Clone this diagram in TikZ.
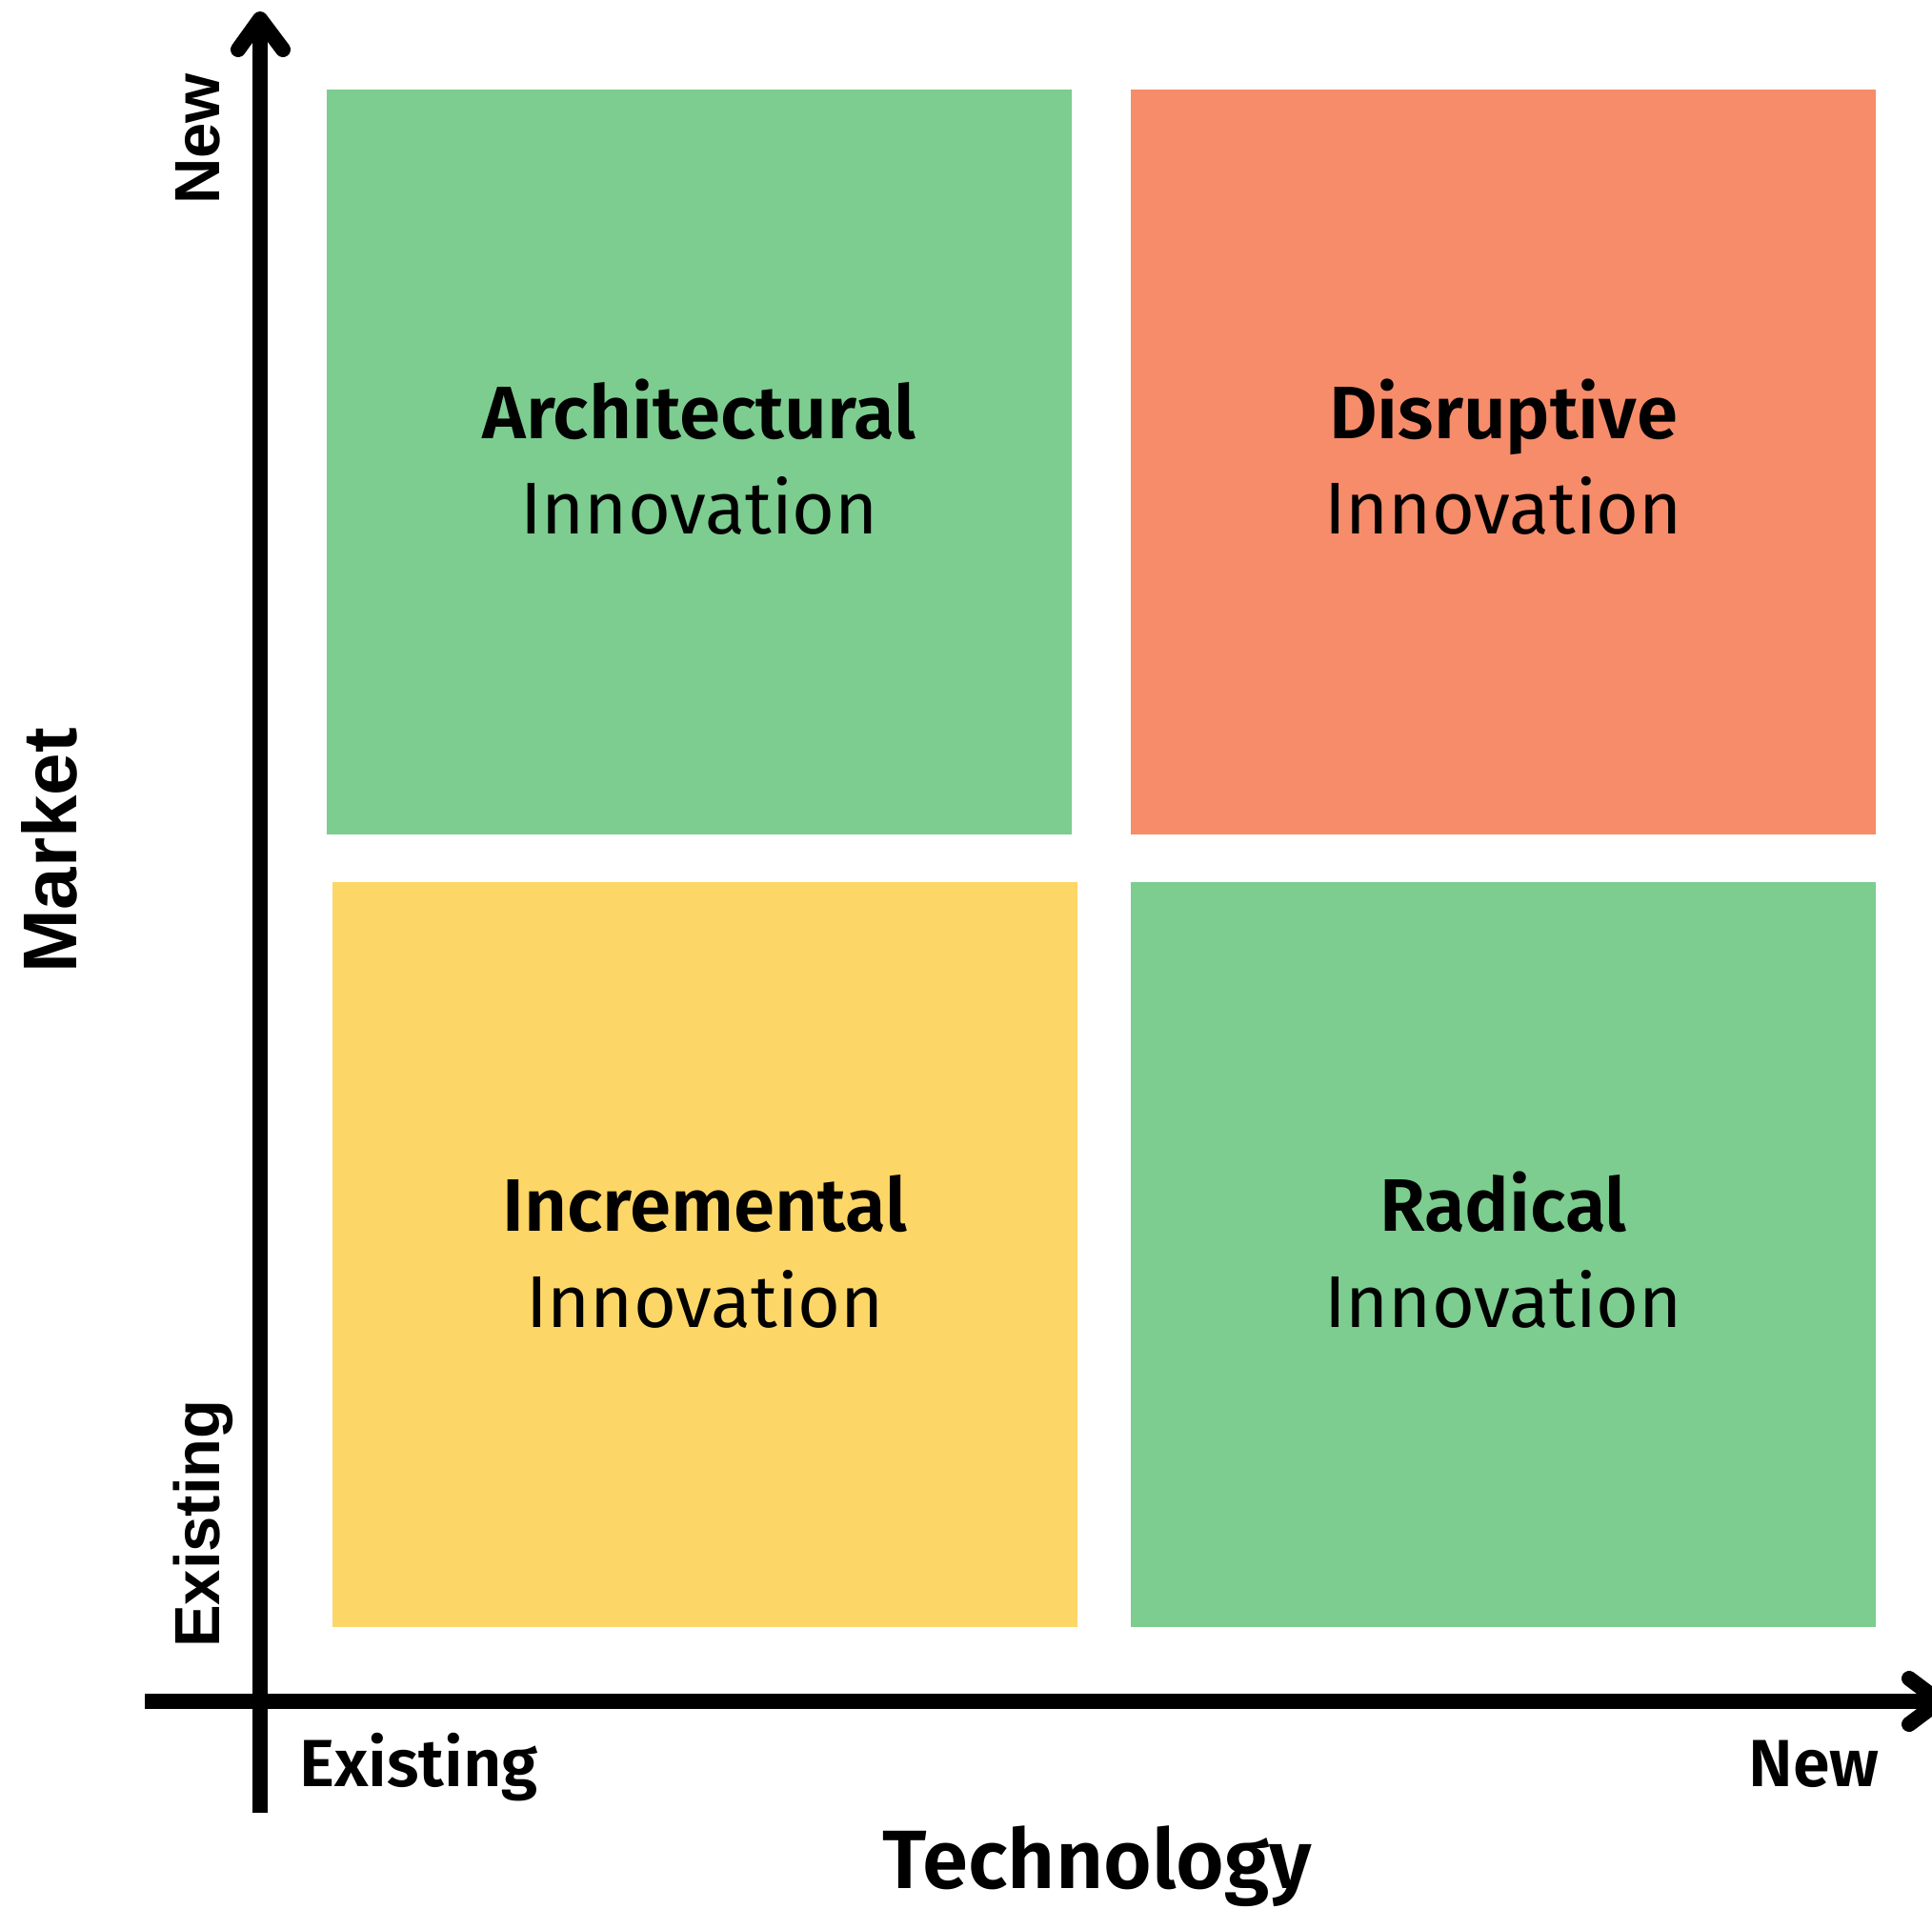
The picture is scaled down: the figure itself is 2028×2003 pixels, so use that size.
\documentclass[tikz,border=0pt]{standalone}
\usepackage{fontspec}
\newfontfamily\plexb{Fira Sans}[UprightFont=* SemiBold]
\newfontfamily\plexr{Fira Sans}
\newfontfamily\arialf{Liberation Sans}
\definecolor{qgreen}{HTML}{7CCD8F}
\definecolor{qorange}{HTML}{F68C6A}
\definecolor{qyellow}{HTML}{FDD668}
\begin{document}
\begin{tikzpicture}[x=1pt,y=-1pt,
  quad/.style={draw=none,inner sep=0pt,minimum width=782pt,minimum height=782pt},
  title/.style={inner sep=0pt,anchor=base,font=\plexb\fontsize{78}{80}\selectfont},
  sub/.style={inner sep=0pt,anchor=base,font=\plexr\fontsize{77}{80}\selectfont},
  axl/.style={inner sep=0pt,font=\plexb\fontsize{70}{72}\selectfont},
  vaxl/.style={inner sep=0pt,rotate=90,font=\arialf\bfseries\fontsize{67}{70}\selectfont},
  axis/.style={line width=16pt,line cap=butt},
  chev/.style={line width=16pt,line cap=round,line join=round}]
\useasboundingbox (0,0) rectangle (2028,2003);
% quadrants
\node[quad,fill=qgreen]  (arch) at (734,485) {};
\node[quad,fill=qorange] (disr) at (1578,485) {};
\node[quad,fill=qyellow] (incr) at (740,1316.5) {};
\node[quad,fill=qgreen]  (rad)  at (1578,1316.5) {};
% labels
\node[title] (archT) at (734,460) {Architectural};
\node[sub]   (archS) at (734,560) {Innovation};
\node[title] (disrT) at (1578,460) {Disruptive};
\node[sub]   (disrS) at (1578,560) {Innovation};
\node[title] (incrT) at (740,1292) {Incremental};
\node[sub]   (incrS) at (740,1393) {Innovation};
\node[title] (radT)  at (1578,1292) {Radical};
\node[sub]   (radS)  at (1578,1393) {Innovation};
% axes
\coordinate (vbot) at (273,1903);
\coordinate (vtop) at (273,24);
\coordinate (vl) at (250,52);
\coordinate (vr) at (297,52);
\coordinate (vtip) at (273,20);
\coordinate (hleft) at (152,1786);
\coordinate (hright) at (2032,1786);
\coordinate (hu) at (2004,1762);
\coordinate (hd) at (2004,1810);
\coordinate (htip) at (2036,1786);
\draw[axis] (vbot) -- (vtop);
\draw[chev] (vl) -- (vtip) -- (vr);
\draw[axis] (hleft) -- (hright);
\draw[chev] (hu) -- (htip) -- (hd);
% axis labels
\node[axl,anchor=base west] (hex) at (314,1875) {Existing};
\node[axl,anchor=base east] (hnew) at (1973,1875) {New};
\node[inner sep=0pt,anchor=base,font=\plexb\fontsize{87}{90}\selectfont] (tech) at (1152,1982) {Technology};
\node[vaxl,anchor=base west] (vex) at (230,1730) {Existing};
\node[vaxl,anchor=base west] (vnew) at (230,215) {New};
\node[inner sep=0pt,rotate=90,anchor=base,font=\arialf\bfseries\fontsize{80}{84}\selectfont] (mkt) at (80,893) {Market};
\end{tikzpicture}
\end{document}
